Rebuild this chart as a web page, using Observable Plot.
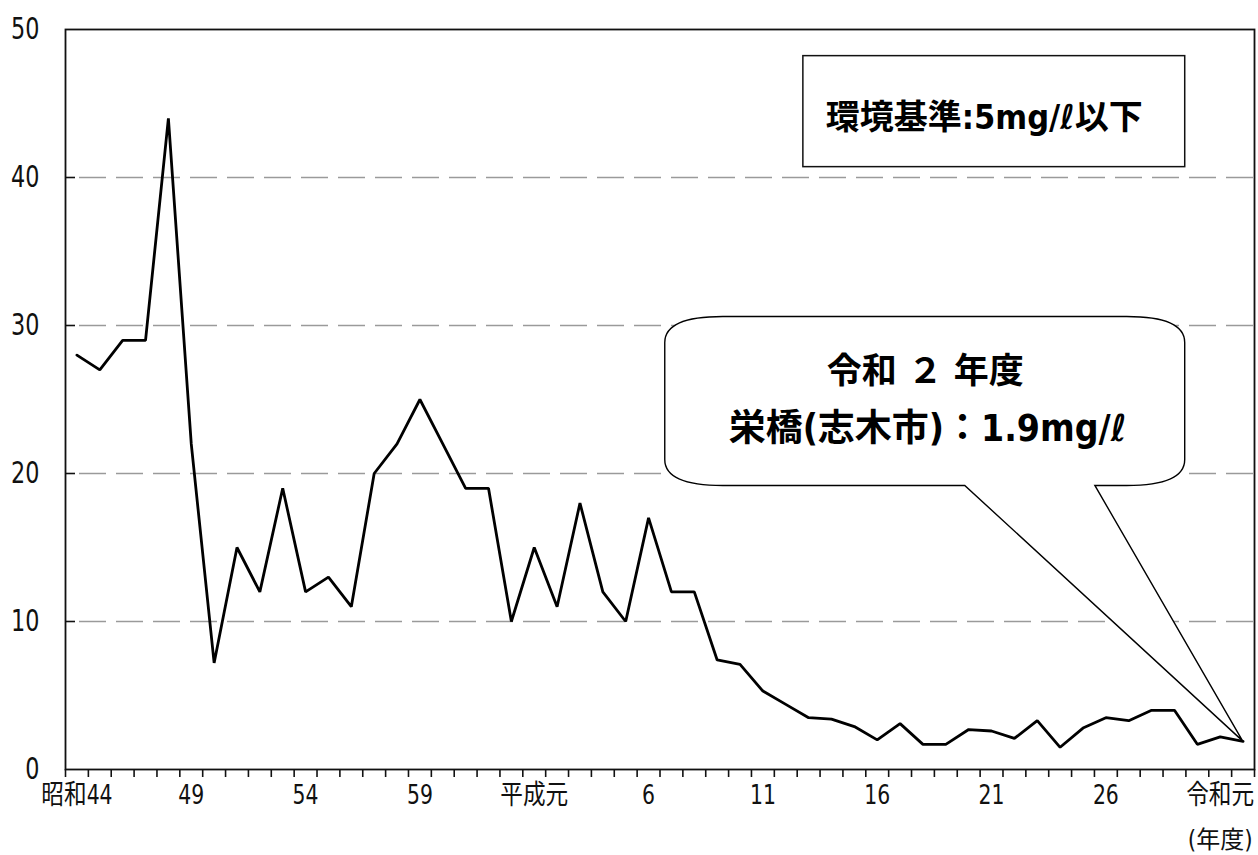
<!DOCTYPE html>
<html>
<head>
<meta charset="utf-8">
<script src="https://cdn.jsdelivr.net/npm/d3@7"></script>
<script src="https://cdn.jsdelivr.net/npm/@observablehq/plot@0.6"></script>
<style>
  html, body { margin: 0; padding: 0; background: #fff; }
  #chart svg { display: block; }
</style>
</head>
<body>
<div id="chart"></div>
<script>
// ---- data (BOD, mg/ℓ, fiscal years 昭和44 … 令和2) ----
const years = d3.range(1969, 2021);
const bod = [
  28, 27, 29, 29, 44, 22, 7.2, 15, 12, 19,
  12, 13, 11, 20, 22, 25, 22, 19, 19, 10,
  15, 11, 18, 12, 10, 17, 12, 12, 7.4, 7.1,
  5.3, 4.4, 3.5, 3.4, 2.9, 2.0, 3.1, 1.7, 1.7, 2.7,
  2.6, 2.1, 3.3, 1.5, 2.8, 3.5, 3.3, 4.0, 4.0, 1.7,
  2.2, 1.9
];
const labelYears = [1969, 1974, 1979, 1984, 1989, 1994, 1999, 2004, 2009, 2014, 2019];
const labelTexts = ["昭和44", "49", "54", "59", "平成元", "6", "11", "16", "21", "26", "令和元"];
const yTicks = [0, 10, 20, 30, 40, 50];
const gridValues = [10, 20, 30, 40];
const standardText = "環境基準:5mg/ℓ以下";
const calloutLines = ["令和 ２ 年度", "栄橋(志木市)：1.9mg/ℓ"];
const calloutYear = 2020;
const calloutValue = 1.9;

const data = years.map((y, i) => ({year: y, value: bod[i]}));
const labelMap = new Map(labelYears.map((y, i) => [y, labelTexts[i]]));
const boundaries = d3.range(years.length + 1).map(i => years[0] - 0.5 + i);

const W = 1258, H = 855;
const mL = 65, mR = 4, mT = 29, mB = 86;
const plotW = W - mL - mR;
const FONT = '"Liberation Sans Narrow", "DejaVu Sans Condensed", "Noto Sans CJK JP", sans-serif';

// speech bubble drawn through the plot's scales
function bubble(index, scales) {
  const sx = scales.x, sy = scales.y;
  const L = sx(1994.73), R = sx(2017.47), T = sy(30.57), B = sy(19.16);
  const t1 = sx(2007.85), t2 = sx(2013.54);
  const tx = sx(calloutYear), ty = sy(calloutValue);
  const rx = 58, ry = 26;
  const d = [
    `M${L + rx},${T}`,
    `H${R - rx}`,
    `Q${R},${T} ${R},${T + ry}`,
    `V${B - ry}`,
    `Q${R},${B} ${R - rx},${B}`,
    `H${t2}`,
    `L${tx},${ty}`,
    `L${t1},${B}`,
    `H${L + rx}`,
    `Q${L},${B} ${L},${B - ry}`,
    `V${T + ry}`,
    `Q${L},${T} ${L + rx},${T}`,
    "Z"
  ].join(" ");
  const g = d3.create("svg:g");
  g.append("path").attr("d", d).attr("fill", "white").attr("stroke", "black").attr("stroke-width", 1.4).attr("stroke-linejoin", "miter");
  return g.node();
}

const chart = Plot.plot({
  width: W,
  height: H,
  marginLeft: mL,
  marginRight: mR,
  marginTop: mT,
  marginBottom: mB,
  style: {fontFamily: FONT, background: "white", color: "#111", overflow: "visible"},
  x: {domain: [years[0] - 0.5, years[years.length - 1] + 0.5]},
  y: {domain: [0, 50]},
  marks: [
    Plot.ruleY(gridValues, {stroke: "#9a9a9a", strokeWidth: 1.6, strokeDasharray: "27,10", insetLeft: 14}),
    Plot.ruleY(gridValues, {stroke: "#111", strokeWidth: 1.6, insetRight: plotW - 10}),
    Plot.axisY({ticks: yTicks, tickSize: 0, tickPadding: 26, fontSize: 31, label: null, tickFormat: d => String(d)}),
    Plot.axisX({ticks: boundaries, tickSize: 8, tickFormat: () => "", label: null, stroke: "#111", strokeWidth: 1.6}),
    Plot.axisX({ticks: labelYears, tickSize: 0, tickPadding: 15, fontSize: 27, label: null, tickFormat: d => labelMap.get(d)}),
    Plot.text(["(年度)"], {x: 2019, frameAnchor: "bottom", dy: 78, fontSize: 24}),
    Plot.frame({stroke: "#111", strokeWidth: 1.8}),
    Plot.rect([0], {x1: 2000.77, x2: 2017.47, y1: 40.7, y2: 48.2, fill: "white", stroke: "#111", strokeWidth: 1.5}),
    Plot.text([standardText], {x: 2001.75, y: 44.0, textAnchor: "start", fontSize: 34, fontWeight: "bold", fill: "#000"}),
    bubble,
    Plot.text([calloutLines[0]], {x: 2006.1, y: 26.9, fontSize: 35, fontWeight: "bold", fill: "#000"}),
    Plot.text([calloutLines[1]], {x: 2006.2, y: 23.0, fontSize: 37, fontWeight: "bold", fill: "#000"}),
    Plot.line(data, {x: "year", y: "value", stroke: "#000", strokeWidth: 2.8, strokeLinejoin: "miter"})
  ]
});

// condense the axis tick labels horizontally (the reference uses a narrow face)
function condense(selector, k) {
  chart.querySelectorAll(selector).forEach(t => {
    const tr = t.getAttribute("transform");
    if (tr && /translate/.test(tr)) {
      t.setAttribute("transform", tr + ` scale(${k},1)`);
    } else {
      const x = +(t.getAttribute("x") || 0), y = +(t.getAttribute("y") || 0);
      t.removeAttribute("x"); t.removeAttribute("y");
      t.setAttribute("transform", `translate(${x},${y}) scale(${k},1)` + (tr ? " " + tr : ""));
    }
  });
}
condense('g[aria-label="y-axis tick label"] text', 0.8);
condense('g[aria-label="x-axis tick label"] text', 0.84);

document.getElementById("chart").appendChild(chart);
</script>
</body>
</html>
